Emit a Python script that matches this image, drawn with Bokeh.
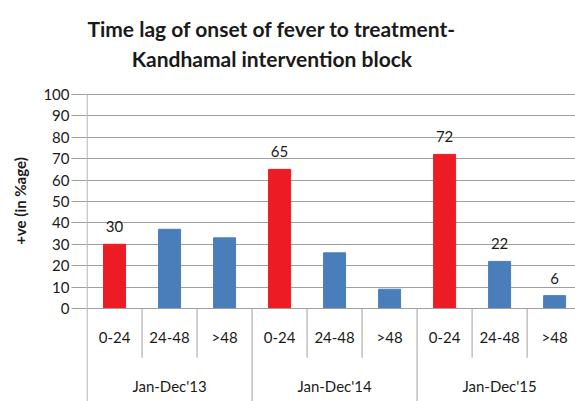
import math
from bokeh.plotting import figure
from bokeh.models import ColumnDataSource, FixedTicker, Label, Range1d
from bokeh.core.properties import value
from bokeh.embed import file_html
from bokeh.resources import INLINE

# ---- data ----
periods = ["Jan-Dec'13", "Jan-Dec'14", "Jan-Dec'15"]
lags = ["0-24", "24-48", ">48"]
values = [30, 37, 33, 65, 26, 9, 72, 22, 6]
shown_labels = ["30", "", "", "65", "", "", "72", "22", "6"]
y_ticks = list(range(0, 101, 10))
title_lines = ["Time lag of onset of fever to treatment-", "Kandhamal intervention block"]
y_title = "+ve (in %age)"

RED = "#ED1C24"
BLUE = "#4A7EBB"
GRID = "#A0A0A0"
TXT = "#1A1A1A"
FONT = "Lato"

n_lag = len(lags)
n = len(values)
xs = [i + 0.5 for i in range(n)]
cats = [lags[i % n_lag] for i in range(n)]
colors = [RED if i % n_lag == 0 else BLUE for i in range(n)]

Y_BOT = -43.46
p = figure(width=575, height=401, x_range=Range1d(-0.01, 8.88), y_range=Range1d(Y_BOT, 143.9),
           output_backend="svg", toolbar_location=None,
           min_border_left=86, min_border_right=0, min_border_top=0, min_border_bottom=0)
p.outline_line_color = None
p.background_fill_color = "white"
p.border_fill_color = "white"

p.xaxis.visible = False
p.xgrid.visible = False
yax = p.yaxis[0]
yax.ticker = FixedTicker(ticks=y_ticks)
yax.bounds = (0, 117.2)
yax.axis_line_color = None
yax.major_tick_out = 15
yax.major_tick_in = 0
yax.minor_tick_line_color = None
yax.major_tick_line_color = GRID
yax.major_label_standoff = 2
yax.major_label_text_font = FONT
yax.major_label_text_font_size = "15px"
yax.major_label_text_color = TXT
yax.axis_label = y_title
yax.axis_label_standoff = 11
yax.axis_label_text_font = FONT
yax.axis_label_text_font_style = "bold"
yax.axis_label_text_font_size = "15px"
yax.axis_label_text_color = TXT
p.ygrid.grid_line_color = GRID
p.ygrid.grid_line_width = 1

src = ColumnDataSource(dict(x=xs, top=values, color=colors, lab=shown_labels, cat=cats))
p.vbar(x="x", top="top", width=0.4, bottom=0, fill_color="color", line_color="color", source=src)

# axis line + dividers
p.segment(x0=[0], y0=[100], x1=[0], y1=[Y_BOT], line_color=GRID, line_width=1)
short_b = [i for i in range(1, n) if i % n_lag != 0]
long_b = [i for i in range(n_lag, n + 1, n_lag)]
p.segment(x0=short_b, y0=[0] * len(short_b), x1=short_b, y1=[-23] * len(short_b), line_color=GRID, line_width=1)
p.segment(x0=long_b, y0=[0] * len(long_b), x1=long_b, y1=[Y_BOT] * len(long_b), line_color=GRID, line_width=1)
p.segment(x0=[0], y0=[0], x1=[n], y1=[0], line_color=GRID, line_width=1)

# value labels
p.text(x="x", y="top", text="lab", source=src, text_align="center", text_baseline="bottom",
       y_offset=-12, text_font=value(FONT), text_font_size="15px", text_color=TXT)
# category labels
p.text(x="x", y=-13.5, text="cat", source=src, text_align="center", text_baseline="middle",
       text_font=value(FONT), text_font_size="15px", text_color=TXT)
# group labels
gx = [g * n_lag + n_lag / 2 for g in range(len(periods))]
p.text(x=gx, y=[-36] * len(gx), text=periods, text_align="center", text_baseline="middle",
       text_font=value(FONT), text_font_size="15px", text_color=TXT)

# title
for txt, ty in zip(title_lines, [131.0, 117.0]):
    p.add_layout(Label(x=3.36, y=ty, text=txt, text_align="center", text_baseline="alphabetic",
                       text_font=FONT, text_font_style="bold", text_font_size="21px", text_color=TXT))

open("out.html", "w").write(file_html(p, INLINE))
